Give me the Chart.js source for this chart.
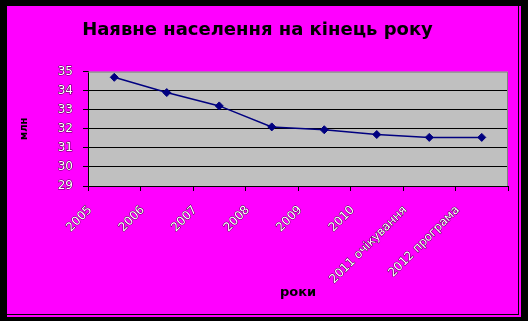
<!DOCTYPE html>
<html>
<head>
<meta charset="utf-8">
<script src="https://cdn.jsdelivr.net/npm/chart.js@4/dist/chart.umd.min.js"></script>
<style>
  html, body { margin: 0; padding: 0; background: #000; }
  #frame { position: absolute; left: 7px; top: 6px; width: 514px; height: 311px; background: #ff00ff; }
  #inner { position: absolute; left: 0; top: 0; width: 511px; height: 308px; border-right: 1px solid #000; border-bottom: 1px solid #000; }
  canvas { display: block; }
</style>
</head>
<body>
<div id="frame"><div id="inner"><canvas id="chart" width="511" height="308"></canvas></div></div>
<script>
var years = ['2005', '2006', '2007', '2008', '2009', '2010', '2011 очікування', '2012 програма'];
var population = [34.7, 33.9, 33.2, 32.1, 31.95, 31.7, 31.55, 31.55];
var yTicks = [29, 30, 31, 32, 33, 34, 35];

var plotBackground = {
    id: 'plotBackground',
    beforeDraw: function (chart) {
        var a = chart.chartArea;
        var ctx = chart.ctx;
        ctx.save();
        ctx.fillStyle = '#c0c0c0';
        ctx.fillRect(a.left, a.top, a.right - a.left, a.bottom - a.top);
        ctx.restore();
    },
    beforeDatasetsDraw: function (chart) {
        var a = chart.chartArea;
        var ctx = chart.ctx;
        ctx.save();
        ctx.strokeStyle = '#808080';
        ctx.lineWidth = 1;
        ctx.beginPath();
        ctx.moveTo(a.left, a.top + 0.5);
        ctx.lineTo(a.right - 0.5, a.top + 0.5);
        ctx.lineTo(a.right - 0.5, a.bottom);
        ctx.stroke();
        ctx.restore();
    }
};

var tickFont = { family: 'DejaVu Sans, sans-serif', size: 12 };

new Chart(document.getElementById('chart'), {
    type: 'line',
    data: {
        labels: years,
        datasets: [{
            data: population,
            borderColor: '#000080',
            backgroundColor: '#000080',
            borderWidth: 1.5,
            pointStyle: 'rectRot',
            pointRadius: 4,
            pointBorderWidth: 1,
            tension: 0
        }]
    },
    options: {
        responsive: false,
        animation: false,
        events: [],
        layout: { padding: { left: 0, right: 10, top: 0, bottom: 0 } },
        plugins: {
            legend: { display: false },
            tooltip: { enabled: false },
            title: {
                display: true,
                text: 'Наявне населення на кінець року',
                color: '#000',
                font: { family: 'DejaVu Sans, sans-serif', size: 18, weight: 'bold' },
                padding: { top: 14, bottom: 30 }
            }
        },
        scales: {
            x: {
                offset: true,
                grid: { offset: true, drawOnChartArea: false, color: '#000', tickLength: 5, tickColor: '#000' },
                border: { color: '#000', width: 1 },
                ticks: {
                    color: '#ffffff',
                    textStrokeColor: 'rgba(0,0,0,0.75)',
                    textStrokeWidth: 1,
                    font: tickFont,
                    minRotation: 45,
                    maxRotation: 45,
                    autoSkip: false,
                    labelOffset: -24,
                    padding: 12
                },
                title: {
                    display: true,
                    text: 'роки',
                    color: '#000',
                    font: { family: 'DejaVu Sans, sans-serif', size: 13, weight: 'bold' },
                    padding: { top: 0, bottom: 14 }
                },
                afterFit: function (scale) { scale.height = 128; }
            },
            y: {
                min: 29,
                max: 35,
                afterBuildTicks: function (scale) {
                    scale.ticks = yTicks.map(function (v) { return { value: v }; });
                },
                grid: {
                    color: function (c) { return c.tick && c.tick.value === 35 ? 'rgba(0,0,0,0)' : '#000'; },
                    tickColor: '#000',
                    tickLength: 5
                },
                border: { color: '#000', width: 1 },
                ticks: {
                    color: '#ffffff',
                    textStrokeColor: 'rgba(0,0,0,0.75)',
                    textStrokeWidth: 1,
                    font: tickFont,
                    padding: 10
                },
                title: {
                    display: true,
                    text: 'млн',
                    color: '#000',
                    font: { family: 'DejaVu Sans, sans-serif', size: 10, weight: 'bold' },
                    padding: { top: 11, bottom: 0 }
                },
                afterFit: function (scale) { scale.width = 81; }
            }
        }
    },
    plugins: [plotBackground]
});
</script>
</body>
</html>
